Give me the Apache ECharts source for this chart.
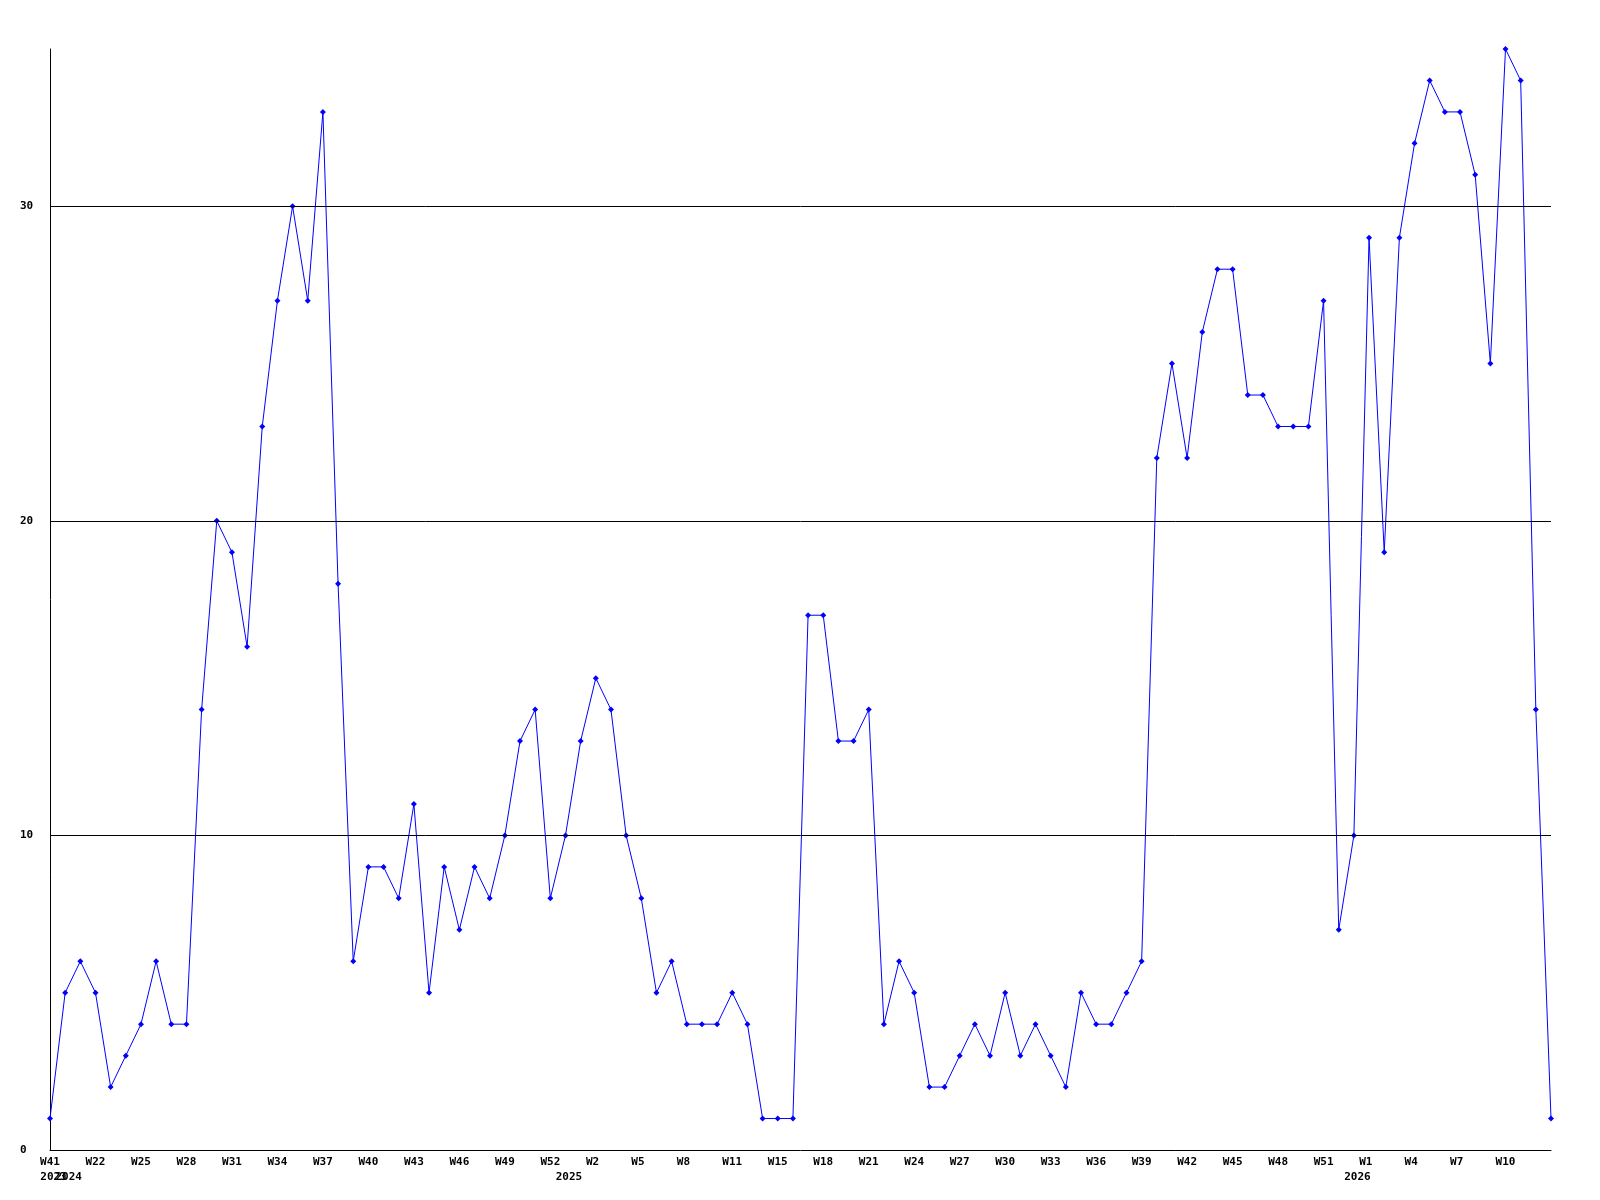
<!DOCTYPE html>
<html>
<head>
<meta charset="utf-8">
<script src="https://cdn.jsdelivr.net/npm/echarts@6/dist/echarts.min.js"></script>
<style>
html,body{margin:0;padding:0;background:#fff;}
#c{width:1600px;height:1200px;}
</style>
</head>
<body>
<div id="c"></div>
<script>
// Week label for each point
const weeks = [
  'W41',
  'W20','W21','W22','W23','W24','W25','W26','W27','W28','W29','W30','W31','W32','W33','W34','W35','W36','W37','W38','W39','W40','W41','W42','W43','W44','W45','W46','W47','W48','W49','W50','W51','W52',
  'W0','W1','W2','W3','W4','W5','W6','W7','W8','W9','W10','W11','W12','W14','W15','W16','W17','W18','W19','W20','W21','W22','W23','W24','W25','W26','W27','W28','W29','W30','W31','W32','W33','W34','W35','W36','W37','W38','W39','W40','W41','W42','W43','W44','W45','W46','W47','W48','W49','W50','W51','W52',
  'W0','W1','W2','W3','W4','W5','W6','W7','W8','W9','W10','W11','W12','W13'
];
// Year of each point
const years = [
  '2023',
  '2024','2024','2024','2024','2024','2024','2024','2024','2024','2024','2024','2024','2024','2024','2024','2024','2024','2024','2024','2024','2024','2024','2024','2024','2024','2024','2024','2024','2024','2024','2024','2024','2024',
  '2025','2025','2025','2025','2025','2025','2025','2025','2025','2025','2025','2025','2025','2025','2025','2025','2025','2025','2025','2025','2025','2025','2025','2025','2025','2025','2025','2025','2025','2025','2025','2025','2025','2025','2025','2025','2025','2025','2025','2025','2025','2025','2025','2025','2025','2025','2025','2025','2025','2025','2025','2025',
  '2026','2026','2026','2026','2026','2026','2026','2026','2026','2026','2026','2026','2026','2026'
];
const values = [
  1,
  5,6,5,2,3,4,6,4,4,14,20,19,16,23,27,30,27,33,18,6,9,9,8,11,5,9,7,9,8,10,13,14,8,
  10,13,15,14,10,8,5,6,4,4,4,5,4,1,1,1,17,17,13,13,14,4,6,5,2,2,3,4,3,5,3,4,3,2,5,4,4,5,6,22,25,22,26,28,28,24,24,23,23,23,27,7,
  10,29,19,29,32,34,33,33,31,25,35,34,14,1
];
const yTicks = [10, 20, 30];
const yMin = 0, yMax = 35, yInterval = 10;

const font = 'DejaVu Sans Mono';
const chart = echarts.init(document.getElementById('c'), null, {renderer: 'canvas'});
chart.setOption({
  animation: false,
  backgroundColor: '#ffffff',
  grid: {left: 50, right: 49, top: 49, bottom: 50, containLabel: false},
  xAxis: [
    {
      type: 'category',
      data: weeks,
      boundaryGap: false,
      axisLine: {show: true, lineStyle: {color: '#000', width: 1}},
      axisTick: {show: false},
      splitLine: {show: false},
      axisLabel: {
        interval: 2,
        margin: 7,
        color: '#000',
        fontFamily: font,
        fontWeight: 'bold',
        fontSize: 11,
        formatter: (v, i) => (i === weeks.length - 1 ? '' : v.padEnd(3, ' '))
      }
    },
    {
      type: 'category',
      data: years,
      position: 'bottom',
      boundaryGap: false,
      axisLine: {show: false},
      axisTick: {show: false},
      splitLine: {show: false},
      axisLabel: {
        interval: 0,
        margin: 22,
        color: '#000',
        fontFamily: font,
        fontWeight: 'bold',
        fontSize: 11,
        padding: [0, 0, 0, 7],
        formatter: (v, i) => (i === 0 || years[i] !== years[i - 1] ? v : '')
      }
    }
  ],
  yAxis: {
    type: 'value',
    min: yMin,
    max: yMax,
    interval: yInterval,
    axisLine: {show: true, lineStyle: {color: '#000', width: 1}},
    axisTick: {show: false},
    splitLine: {show: false},
    axisLabel: {
      showMaxLabel: false,
      align: 'left',
      margin: 30,
      color: '#000',
      fontFamily: font,
      fontWeight: 'bold',
      fontSize: 11,
      padding: [2, 0, 0, 0]
    }
  },
  series: [
    {
      type: 'line',
      data: values,
      xAxisIndex: 0,
      z: 1,
      symbol: 'none',
      lineStyle: {opacity: 0},
      silent: true,
      markLine: {
        silent: true,
        symbol: 'none',
        label: {show: false},
        lineStyle: {color: '#000', width: 1, type: 'solid'},
        data: yTicks.map(v => ({yAxis: v}))
      }
    },
    {
      type: 'line',
      data: values,
      xAxisIndex: 0,
      z: 3,
      symbol: 'diamond',
      symbolSize: 6,
      showAllSymbol: true,
      itemStyle: {color: '#0000ff'},
      lineStyle: {color: '#0000ff', width: 1}
    }
  ]
});
</script>
</body>
</html>
